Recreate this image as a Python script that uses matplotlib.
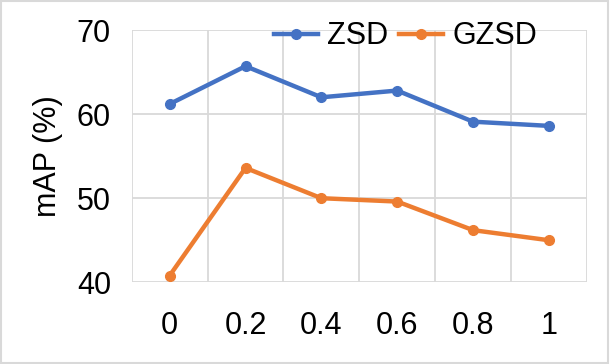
import numpy as np
import matplotlib.pyplot as plt
from matplotlib.patches import Rectangle

plt.rcParams['font.family'] = ['Liberation Sans', 'DejaVu Sans']

# data
x_labels = ['0', '0.2', '0.4', '0.6', '0.8', '1']
zsd = [61.2, 65.7, 62.0, 62.8, 59.1, 58.6]
gzsd = [40.8, 53.6, 50.0, 49.6, 46.2, 45.0]
y_ticks = [40, 50, 60, 70]

fig = plt.figure(figsize=(6.10, 3.64), dpi=100)
ax = fig.add_axes([0.216, 0.2245, 0.746, 0.693])

xs = np.arange(len(x_labels))
ax.plot(xs, zsd, color='#4472C4', lw=3.2, marker='o', ms=7, label='ZSD')
ax.plot(xs, gzsd, color='#ED7D31', lw=3.2, marker='o', ms=7, label='GZSD')

ax.set_xlim(-0.5, len(x_labels) - 0.5)
ax.set_ylim(40, 70)
ax.set_yticks(y_ticks)
ax.set_xticks(xs)
ax.set_xticklabels(x_labels)
# category gridlines sit between the points
ax.set_xticks(np.arange(len(x_labels) + 1) - 0.5, minor=True)
ax.grid(True, which='minor', axis='x', color='#d9d9d9', lw=1.3)
ax.grid(True, which='major', axis='y', color='#d9d9d9', lw=1.3)
ax.set_axisbelow(True)
for s in ax.spines.values():
    s.set_visible(False)
ax.tick_params(axis='both', which='both', length=0, labelsize=22)
ax.tick_params(axis='x', pad=21)
ax.tick_params(axis='y', pad=15)
ax.set_ylabel('mAP (%)', fontsize=22, labelpad=10)

fig.legend(loc='center', bbox_to_anchor=(0.665, 0.9), ncol=2, frameon=False,
           fontsize=22, handlelength=1.45, handletextpad=0.3, columnspacing=0.35,
           borderpad=0, borderaxespad=0)

fig.patches.append(Rectangle((0.002, 0.003), 0.995, 0.993, transform=fig.transFigure,
                             fill=False, edgecolor='#d9d9d9', lw=1.5))

fig.savefig('out.png', dpi=100)
